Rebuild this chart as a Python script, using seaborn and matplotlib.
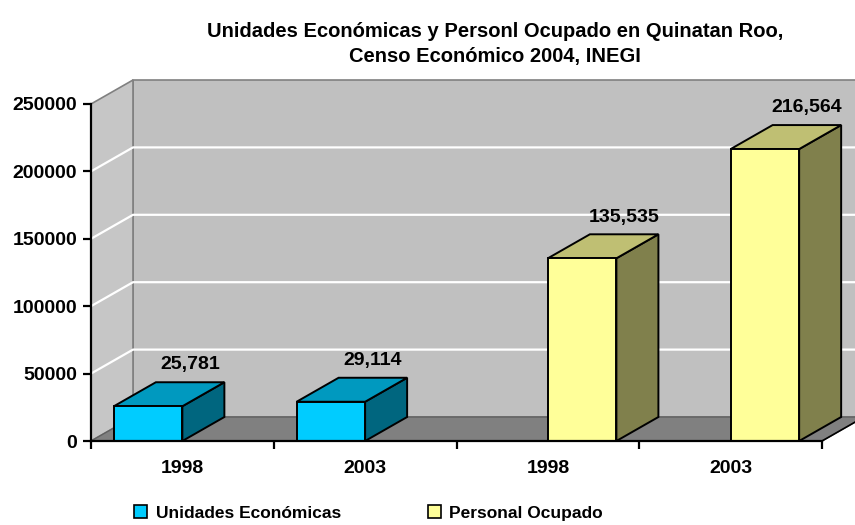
import matplotlib
matplotlib.use("Agg")
import matplotlib.pyplot as plt
from matplotlib.patches import Polygon, Patch
import seaborn as sns
import pandas as pd

# ---- data ----
slots = ["UE-1998", "UE-2003", "PO-1998", "PO-2003"]
tick_labels = ["1998", "2003", "1998", "2003"]
series_names = ["Unidades Económicas", "Personal Ocupado"]
ue_values = [25781, 29114]
po_values = [135535, 216564]

df = pd.DataFrame({
    "slot": slots,
    "serie": [series_names[0], series_names[0], series_names[1], series_names[1]],
    "valor": ue_values + po_values,
})

front_cols = {series_names[0]: "#00CCFF", series_names[1]: "#FFFF99"}
top_cols = {series_names[0]: "#0099BF", series_names[1]: "#BFBF73"}
side_cols = {series_names[0]: "#00667F", series_names[1]: "#80804C"}

sns.set_theme(style="white")
plt.rcParams["font.family"] = ["Liberation Sans", "DejaVu Sans"]
plt.rcParams["text.color"] = "black"

fig = plt.figure(figsize=(8.55, 5.25), dpi=100)
ax = fig.add_axes([91 / 855, 84 / 525, 731 / 855, 337 / 525])
ax.patch.set_visible(False)

sns.barplot(data=df, x="slot", y="valor", hue="serie", order=slots,
            hue_order=series_names, palette=front_cols, width=0.75, dodge=True,
            edgecolor="black", linewidth=1.4, legend=False, ax=ax,
            saturation=1, zorder=3)

ax.set_xlim(-0.5, 3.5)
ax.set_ylim(0, 250000)
ymax = 250000
dx = 42 / 731 * 4.0
dy = 24 / 337 * 250000
x0, x1 = -0.5, 3.5

# walls & floor
wall_c = "#C0C0C0"
edge_c = "#808080"
ax.add_patch(Polygon([(x0 + dx, dy), (x1 + dx, dy), (x1 + dx, ymax + dy), (x0 + dx, ymax + dy)],
                     closed=True, facecolor=wall_c, edgecolor=edge_c, lw=1.2, clip_on=False, zorder=0.1))
ax.add_patch(Polygon([(x0, 0), (x0 + dx, dy), (x0 + dx, ymax + dy), (x0, ymax)],
                     closed=True, facecolor="#C6C6C6", edgecolor=edge_c, lw=1.2, clip_on=False, zorder=0.15))
ax.add_patch(Polygon([(x0, 0), (x1, 0), (x1 + dx, dy), (x0 + dx, dy)],
                     closed=True, facecolor="#808080", edgecolor="#606060", lw=1.0, clip_on=False, zorder=0.2))
for v in [50000, 100000, 150000, 200000]:
    ax.plot([x0, x0 + dx, x1 + dx], [v, v + dy, v + dy], color="white", lw=1.6,
            clip_on=False, zorder=0.3, solid_capstyle="butt")

# 3D faces of bars
for bar in list(ax.patches):
    if bar.get_zorder() != 3:
        continue
    h = bar.get_height()
    if h != h or h <= 0:
        continue
    bx, bw = bar.get_x(), bar.get_width()
    fc = bar.get_facecolor()
    serie = series_names[0] if fc[2] > 0.9 else series_names[1]
    side = Polygon([(bx + bw, 0), (bx + bw + dx, dy), (bx + bw + dx, h + dy), (bx + bw, h)],
                   closed=True, facecolor=side_cols[serie], edgecolor="black", lw=1.4,
                   clip_on=False, zorder=2.5)
    top = Polygon([(bx, h), (bx + bw, h), (bx + bw + dx, h + dy), (bx + dx, h + dy)],
                  closed=True, facecolor=top_cols[serie], edgecolor="black", lw=1.4,
                  clip_on=False, zorder=2.6)
    ax.add_patch(side)
    ax.add_patch(top)
    ax.text(bx + bw / 2 + dx, h + dy + 6500, f"{int(h):,}", ha="center", va="bottom",
            fontsize=14, fontweight="bold", color="black", clip_on=False, zorder=5)

# floor front edge extension to the right
ax.plot([x1, x1 + dx], [0, dy], color="black", lw=1.2, clip_on=False, zorder=0.25)

# axes styling
for s in ["top", "right"]:
    ax.spines[s].set_visible(False)
for s in ["left", "bottom"]:
    ax.spines[s].set_color("black")
    ax.spines[s].set_linewidth(1.6)
    ax.spines[s].set_zorder(4)
ax.set_xlabel("")
ax.set_ylabel("")
ax.set_yticks([0, 50000, 100000, 150000, 200000, 250000])
ax.set_yticklabels(["0", "50000", "100000", "150000", "200000", "250000"])
ax.set_xticks(range(4))
ax.set_xticklabels(tick_labels)
ax.set_xticks([-0.5, 0.5, 1.5, 2.5, 3.5], minor=True)
ax.tick_params(axis="x", which="major", length=0, pad=14, labelsize=14, labelcolor="black")
ax.tick_params(axis="x", which="minor", length=6, width=1.6, color="black", direction="out", bottom=True)
ax.tick_params(axis="y", length=6, width=1.6, color="black", direction="out", left=True,
               pad=4, labelsize=14, labelcolor="black")
for lbl in ax.get_xticklabels() + ax.get_yticklabels():
    lbl.set_fontweight("bold")

fig.text(495 / 855, 1 - 44 / 525,
         "Unidades Económicas y Personl Ocupado en Quinatan Roo,\nCenso Económico 2004, INEGI",
         ha="center", va="center", fontsize=14.5, fontweight="bold", linespacing=1.4, color="black")

handles = [Patch(facecolor=front_cols[s], edgecolor="black", lw=1.2) for s in series_names]
leg = fig.legend(handles, series_names, loc="center left", bbox_to_anchor=(134 / 855, 12 / 525), ncol=2,
                 frameon=False, handlelength=0.75, handleheight=0.75, handletextpad=0.5,
                 borderpad=0, borderaxespad=0, columnspacing=5.0,
                 prop={"weight": "bold", "size": 12.5})
for t in leg.get_texts():
    t.set_color("black")

fig.savefig("out.png", dpi=100, facecolor="white")
